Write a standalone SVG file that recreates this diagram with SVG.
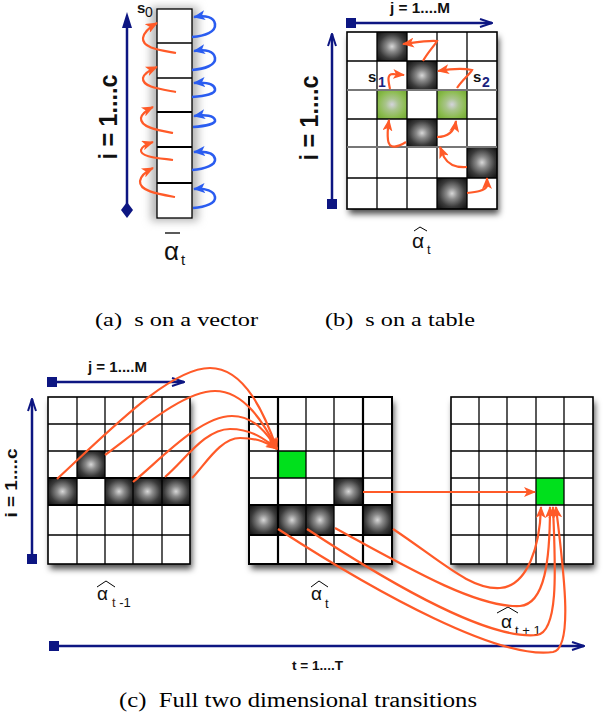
<svg xmlns="http://www.w3.org/2000/svg" width="614" height="720" viewBox="0 0 614 720">
<style>
.gl{stroke:#000;stroke-width:1.3;fill:none}
.or{fill:none;stroke:#ff5a28;stroke-width:2.2}
.bl{fill:none;stroke:#2a5cf0;stroke-width:2.6}
.ax{stroke:#0d1682;stroke-width:2.5;fill:none}
.lab{font-family:"Liberation Sans",Arial,sans-serif;font-weight:bold;fill:#111}
.al{font-family:"Liberation Sans",Arial,sans-serif;fill:#111}
.cap{font-family:"Liberation Serif","Times New Roman",serif;fill:#000}
.dk{fill:url(#dark)}
</style>
<defs>
<radialGradient id="dark" cx="0.5" cy="0.5" r="0.62">
<stop offset="0" stop-color="#d8d8d8"/><stop offset="0.3" stop-color="#8a8a8a"/><stop offset="0.7" stop-color="#3a3a3a"/><stop offset="1" stop-color="#1a1a1a"/>
</radialGradient>
<radialGradient id="pg" cx="0.5" cy="0.5" r="0.6">
<stop offset="0" stop-color="#d4d4dc"/><stop offset="0.35" stop-color="#a9c48c"/><stop offset="0.75" stop-color="#8cbc50"/><stop offset="1" stop-color="#7bb03c"/>
</radialGradient>
<filter id="sh" x="-20%" y="-20%" width="140%" height="140%">
<feDropShadow dx="2" dy="5" stdDeviation="3" flood-color="#000" flood-opacity="0.7"/>
</filter>
<filter id="glow" x="-100%" y="-10%" width="300%" height="120%">
<feGaussianBlur stdDeviation="4"/>
</filter>
<marker id="ho" viewBox="0 0 12 10" refX="11" refY="5" markerWidth="12" markerHeight="10" markerUnits="userSpaceOnUse" orient="auto"><path d="M0,0 L12,5 L0,10 L3,5 z" fill="#ff5a28"/></marker>
<marker id="hb" viewBox="0 0 12 10" refX="11" refY="5" markerWidth="12" markerHeight="10" markerUnits="userSpaceOnUse" orient="auto"><path d="M0,0 L12,5 L0,10 L3,5 z" fill="#2a5cf0"/></marker>
<marker id="chev" viewBox="0 0 14 10" refX="13" refY="5" markerWidth="14" markerHeight="10" markerUnits="userSpaceOnUse" orient="auto"><path d="M1,1 L13,5 L1,9" fill="none" stroke="#0d1682" stroke-width="2"/></marker>
<marker id="sq" viewBox="0 0 10 10" refX="5" refY="5" markerWidth="10" markerHeight="10" markerUnits="userSpaceOnUse" orient="auto"><rect width="10" height="10" fill="#0d1682"/></marker>
</defs>

<!-- (a) vector -->
<g id="vectorA">
<rect x="151" y="7" width="47" height="214" fill="#b4b4b4" filter="url(#glow)"/>
<rect x="157" y="9" width="35" height="209" fill="#fff"/>
<g class="gl" stroke-width="1">
<rect x="157" y="9" width="35" height="209"/>
<line x1="157" y1="43" x2="192" y2="43"/><line x1="157" y1="78" x2="192" y2="78"/>
<line x1="157" y1="112" x2="192" y2="112" stroke-width="2"/><line x1="157" y1="147" x2="192" y2="147" stroke-width="2"/>
<line x1="157" y1="183" x2="192" y2="183" stroke-width="2"/>
</g>
</g>
<g id="axisA">
<line class="ax" x1="127" y1="26" x2="127" y2="208"/>
<path d="M127,12 L122,28 L132,28 z" fill="#0d1682"/>
<path d="M127,202 L133,210 L127,218 L121,210 z" fill="#0d1682"/>
<text class="lab" transform="translate(117,117) rotate(-90)" text-anchor="middle" font-size="26" textLength="85" lengthAdjust="spacingAndGlyphs">i = 1....c</text>
</g>
<g id="labelA">
<text class="lab" x="137" y="13" font-size="15">s</text>
<text class="al" x="145" y="17" font-size="14">0</text>
<line x1="165" y1="233" x2="180" y2="233" stroke="#000" stroke-width="1.3"/>
<text class="al" x="164" y="260" font-size="26">α</text>
<text class="al" x="181" y="265" font-size="15">t</text>
</g>
<g id="arrowsA">
<path class="or" marker-end="url(#ho)" d="M176,53 C160,50 142,48 143,38 C144,32 150,27 157,23"/>
<path class="or" marker-end="url(#ho)" d="M176,92 C160,89 142,87 143,78 C144,73 150,70 157,67"/>
<path class="or" marker-end="url(#ho)" d="M173,133 C157,130 140,127 141,118 C142,113 147,110 153,107"/>
<path class="or" marker-end="url(#ho)" d="M173,160 C158,158 140,157 141,150 C142,146 147,144 153,142"/>
<path class="or" marker-end="url(#ho)" d="M175,197 C158,194 139,191 140,181 C141,175 147,171 153,168"/>
<path class="bl" marker-end="url(#hb)" d="M192,37 C205,36 216,32 215,24 C214,17 206,15 194,17"/>
<path class="bl" marker-end="url(#hb)" d="M192,70 C205,69 216,65 215,58 C214,51 206,49 194,51"/>
<path class="bl" marker-end="url(#hb)" d="M192,97 C205,96 216,94 215,89 C214,84 206,82 194,83"/>
<path class="bl" marker-end="url(#hb)" d="M193,127 C206,126 216,124 215,120 C214,116 206,114 194,116"/>
<path class="bl" marker-end="url(#hb)" d="M192,170 C205,169 216,165 215,159 C214,153 206,151 194,152"/>
<path class="bl" marker-end="url(#hb)" d="M193,208 C206,207 216,203 215,197 C214,191 206,188 194,189"/>
</g>

<!-- (b) table -->
<g id="tableB">
<rect x="347" y="32" width="150" height="177" fill="#fff" filter="url(#sh)"/>
<rect class="dk" x="377" y="32" width="30" height="29"/>
<rect class="dk" x="407" y="61" width="30" height="29"/>
<rect x="377" y="90" width="30" height="29" fill="url(#pg)"/>
<rect x="437" y="90" width="30" height="29" fill="url(#pg)"/>
<rect class="dk" x="407" y="119" width="30" height="28"/>
<rect class="dk" x="467" y="147" width="30" height="31"/>
<rect class="dk" x="437" y="178" width="30" height="31"/>
<g class="gl">
<rect x="347" y="32" width="150" height="177" stroke-width="1.6"/>
<line x1="377" y1="32" x2="377" y2="209"/><line x1="407" y1="32" x2="407" y2="209"/>
<line x1="437" y1="32" x2="437" y2="209"/><line x1="467" y1="32" x2="467" y2="209"/>
<line x1="347" y1="61" x2="497" y2="61"/><line x1="347" y1="90" x2="497" y2="90" stroke="#777" stroke-width="1.8"/>
<line x1="347" y1="119" x2="497" y2="119"/><line x1="347" y1="147" x2="497" y2="147" stroke="#777" stroke-width="1.8"/>
<line x1="347" y1="178" x2="497" y2="178"/>
</g>
</g>
<g id="axesB">
<line class="ax" x1="351" y1="23" x2="492" y2="23" marker-start="url(#sq)" marker-end="url(#chev)"/>
<text class="lab" x="390" y="13" font-size="14" textLength="60" lengthAdjust="spacingAndGlyphs">j = 1....M</text>
<line class="ax" x1="332" y1="204" x2="332" y2="34" marker-start="url(#sq)" marker-end="url(#chev)"/>
<text class="lab" transform="translate(318,118) rotate(-90)" text-anchor="middle" font-size="26" textLength="85" lengthAdjust="spacingAndGlyphs">i = 1....c</text>
</g>
<g id="labelsB">
<text class="lab" x="368" y="82" font-size="15">s</text>
<text class="lab" x="378" y="87" font-size="14" style="fill:#1a237e">1</text>
<text class="lab" x="473" y="82" font-size="15">s</text>
<text class="lab" x="482" y="87" font-size="14" style="fill:#1a237e">2</text>
<polyline points="414,231 420,227 427,231" fill="none" stroke="#000" stroke-width="1"/>
<text class="al" x="412" y="248" font-size="21">α</text>
<text class="al" x="427" y="254" font-size="13">t</text>
</g>
<g id="arrowsB">
<path class="or" marker-end="url(#ho)" d="M423,61 C428,52 435,45 437,41 C430,40 418,42 403,44"/>
<path class="or" marker-end="url(#ho)" d="M457,88 C462,80 470,74 472,70 C462,68 450,69 438,71"/>
<path class="or" marker-end="url(#ho)" d="M390,89 C388,80 387,74 393,74 L404,75"/>
<path class="or" marker-end="url(#ho)" d="M406,142 C398,147 389,150 388,140 C387,132 388,127 389,120"/>
<path class="or" marker-end="url(#ho)" d="M437,137 C447,137 454,133 456,121"/>
<path class="or" marker-end="url(#ho)" d="M467,167 C455,168 448,164 444,157 L440,147"/>
<path class="or" marker-end="url(#ho)" d="M467,193 C476,192 485,191 487,186 L487,178"/>
</g>

<text class="cap" x="95" y="326" font-size="18" xml:space="preserve" textLength="163" lengthAdjust="spacingAndGlyphs">(a)  s on a vector</text>
<text class="cap" x="325" y="326" font-size="18" xml:space="preserve" textLength="150" lengthAdjust="spacingAndGlyphs">(b)  s on a table</text>

<!-- (c) grids -->
<g id="gridT1">
<rect x="48" y="397" width="142" height="167" fill="#fff" filter="url(#sh)"/>
<rect class="dk" x="77" y="451" width="28" height="27"/>
<rect class="dk" x="48" y="478" width="29" height="27"/>
<rect class="dk" x="105" y="478" width="28" height="27"/>
<rect class="dk" x="133" y="478" width="29" height="27"/>
<rect class="dk" x="162" y="478" width="28" height="27"/>
<g class="gl">
<rect x="48" y="397" width="142" height="167" stroke-width="1.6"/>
<line x1="77" y1="397" x2="77" y2="564"/><line x1="105" y1="397" x2="105" y2="564"/><line x1="133" y1="397" x2="133" y2="564"/><line x1="162" y1="397" x2="162" y2="564"/>
<line x1="48" y1="424" x2="190" y2="424"/><line x1="48" y1="451" x2="190" y2="451"/><line x1="48" y1="478" x2="190" y2="478" stroke-width="2"/><line x1="48" y1="505" x2="190" y2="505" stroke-width="2"/><line x1="48" y1="535" x2="190" y2="535"/>
</g>
</g>
<g id="gridT2">
<rect x="249" y="397" width="143" height="167" fill="#fff" filter="url(#sh)"/>
<rect x="278" y="451" width="28" height="27" fill="#00e01c"/>
<rect class="dk" x="334" y="478" width="29" height="27"/>
<rect class="dk" x="249" y="505" width="29" height="30"/>
<rect class="dk" x="278" y="505" width="28" height="30"/>
<rect class="dk" x="306" y="505" width="28" height="30"/>
<rect class="dk" x="363" y="505" width="29" height="30"/>
<g class="gl">
<rect x="249" y="397" width="143" height="167" stroke-width="2"/>
<line x1="278" y1="397" x2="278" y2="564" stroke-width="2.2"/><line x1="306" y1="397" x2="306" y2="564"/><line x1="334" y1="397" x2="334" y2="564"/><line x1="363" y1="397" x2="363" y2="564" stroke-width="2.2"/>
<line x1="249" y1="424" x2="392" y2="424"/><line x1="249" y1="451" x2="392" y2="451"/><line x1="249" y1="478" x2="392" y2="478"/><line x1="249" y1="505" x2="392" y2="505" stroke-width="2.2"/><line x1="249" y1="535" x2="392" y2="535" stroke-width="2.2"/>
</g>
</g>
<g id="gridT3">
<rect x="451" y="397" width="142" height="167" fill="#fff" filter="url(#sh)"/>
<rect x="536" y="478" width="28" height="27" fill="#00e01c"/>
<g class="gl">
<rect x="451" y="397" width="142" height="167" stroke-width="1.6"/>
<line x1="479" y1="397" x2="479" y2="564"/><line x1="507" y1="397" x2="507" y2="564"/><line x1="536" y1="397" x2="536" y2="564"/><line x1="564" y1="397" x2="564" y2="564"/>
<line x1="451" y1="424" x2="593" y2="424"/><line x1="451" y1="451" x2="593" y2="451"/><line x1="451" y1="478" x2="593" y2="478"/><line x1="451" y1="505" x2="593" y2="505"/><line x1="451" y1="535" x2="593" y2="535"/>
</g>
</g>
<g id="axesC">
<line class="ax" x1="52" y1="382" x2="184" y2="382" marker-start="url(#sq)" marker-end="url(#chev)"/>
<text class="lab" x="88" y="372" font-size="14" textLength="59" lengthAdjust="spacingAndGlyphs">j = 1....M</text>
<line class="ax" x1="32" y1="559" x2="32" y2="399" marker-start="url(#sq)" marker-end="url(#chev)"/>
<text class="lab" transform="translate(17,483) rotate(-90)" text-anchor="middle" font-size="17" textLength="69" lengthAdjust="spacingAndGlyphs">i = 1....c</text>
<line class="ax" x1="54" y1="646" x2="584" y2="646" marker-start="url(#sq)" marker-end="url(#chev)"/>
<text class="lab" x="292" y="670" font-size="13" textLength="51" lengthAdjust="spacingAndGlyphs">t = 1....T</text>
</g>
<g id="labelsC">
<polyline points="97,587 106,581 115,587" fill="none" stroke="#000" stroke-width="1"/>
<text class="al" x="97" y="600" font-size="19">α</text>
<text class="al" x="112" y="607" font-size="13"><tspan style="fill:#4a2410">t</tspan> -1</text>
<polyline points="311,587 319,581 328,587" fill="none" stroke="#000" stroke-width="1"/>
<text class="al" x="311" y="600" font-size="19">α</text>
<text class="al" x="325" y="608" font-size="13">t</text>
<polyline points="497,613 508,607 518,613" fill="none" stroke="#000" stroke-width="1"/>
<text class="al" x="501" y="628" font-size="19">α</text>
<text class="al" x="515" y="635" font-size="13">t + 1</text>
</g>
<g id="arrowsC">
<path class="or" marker-end="url(#ho)" d="M57,479 C110,430 170,368 210,368 C245,368 265,415 277,449"/>
<path class="or" marker-end="url(#ho)" d="M105,455 C145,425 185,391 215,391 C245,391 265,425 277,449"/>
<path class="or" marker-end="url(#ho)" d="M133,482 C160,460 200,416 232,416 C255,416 268,435 277,449"/>
<path class="or" marker-end="url(#ho)" d="M165,477 C185,460 205,429 230,429 C252,429 266,440 277,449"/>
<path class="or" marker-end="url(#ho)" d="M192,478 C205,465 220,438 240,438 C258,438 268,443 277,449"/>
<path class="or" marker-end="url(#ho)" d="M363,492 L535,492"/>
<path class="or" marker-end="url(#ho)" d="M393,529 C440,560 470,590 500,588 C528,586 540,545 541,507"/>
<path class="or" marker-end="url(#ho)" d="M335,528 C420,575 480,608 520,606 C545,604 550,560 550,507"/>
<path class="or" marker-end="url(#ho)" d="M307,529 C400,590 490,640 537,635 C560,632 555,560 553,507"/>
<path class="or" marker-end="url(#ho)" d="M278,529 C380,595 500,660 553,652 C575,648 562,560 556,507"/>
</g>
<text class="cap" x="119" y="707" font-size="20" xml:space="preserve" textLength="358" lengthAdjust="spacingAndGlyphs">(c)  Full two dimensional transitions</text>
</svg>
